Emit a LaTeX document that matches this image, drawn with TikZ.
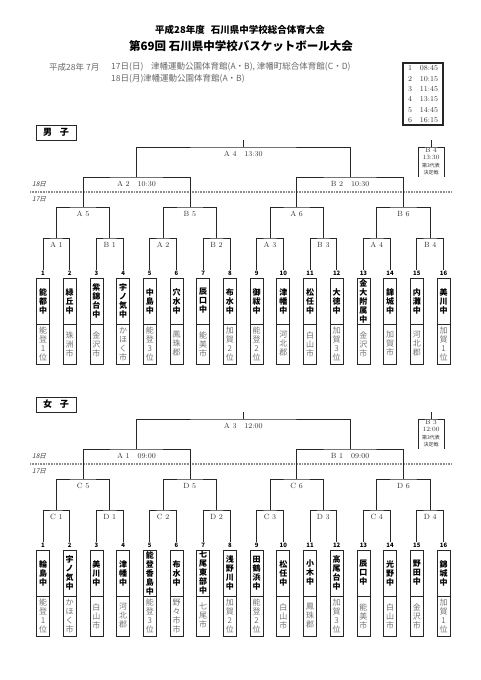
\documentclass[tikz,border=0pt]{standalone}
\usepackage{fontspec}
\newfontfamily\jp{Noto Sans CJK JP}
\newfontfamily\jpsl[FakeSlant=0.25]{Noto Sans CJK JP}

\begin{document}
\begin{tikzpicture}[
    x=1pt, y=-1pt,
    ln/.style={draw=black!85,line width=0.7pt},
    lbl/.style={font=\fontsize{7.5}{8}\selectfont,text=black!80,inner sep=0pt},
    info/.style={font=\jp\fontsize{8.5}{9}\selectfont,text=black!60,inner sep=0pt,anchor=west},
    numb/.style={font=\jp\bfseries\fontsize{6}{6}\selectfont,inner sep=1pt},
    team/.style={draw=black!85,line width=0.7pt,minimum width=13pt,minimum height=46pt,inner sep=0pt,align=center,font=\jp\bfseries\fontsize{8}{9}\selectfont},
    home/.style={draw=black!85,line width=0.7pt,minimum width=13pt,minimum height=40pt,inner sep=0pt,align=center,text=black!55,font=\jp\fontsize{8}{9}\selectfont},
    sexbox/.style={draw=black!85,line width=0.8pt,minimum width=40pt,minimum height=15pt,inner sep=0pt,font=\jp\bfseries\fontsize{9}{9}\selectfont},
    day/.style={font=\jpsl\fontsize{6.5}{7}\selectfont,text=black!75,inner sep=0pt},
    daysep/.style={draw=black!45,line width=1.6pt,dash pattern=on 1pt off 0.6pt},
    thirdbox/.style={align=center,inner sep=0pt,font=\fontsize{6.5}{7.5}\selectfont,text=black!80}
]
\useasboundingbox (0,0) rectangle (481,680);

% heading
\node[font=\jp\bfseries\fontsize{9.5}{10}\selectfont,inner sep=0pt] (title1) at (240,30) {平成28年度\hspace{6pt}石川県中学校総合体育大会};
\node[font=\jp\bfseries\fontsize{11.5}{12}\selectfont,inner sep=0pt] (title2) at (241,46) {第69回 石川県中学校バスケットボール大会};
\node[info] (ya) at (49,67) {平成28年};
\node[info] (mo) at (86,67) {7月};
\node[info] (d17) at (111,67) {17日(日)};
\node[info] (h17) at (151,67) {津幡運動公園体育館(A・B), 津幡町総合体育館(C・D)};
\node[info] (d18) at (111,79) {18日(月)};
\node[info] (h18) at (143,79) {津幡運動公園体育館(A・B)};

% time table
\node[draw=black!85,line width=1.6pt,minimum width=40pt,minimum height=62pt,inner sep=0pt] (tbl) at (423,94) {};
\foreach \r/\t in {1/08:45,2/10:15,3/11:45,4/13:15,5/14:45,6/16:15}{
  \node[lbl] (tn\r) at (410,{58.2+10.3*\r}) {\r};
  \node[lbl] (tt\r) at (429,{58.2+10.3*\r}) {\t};
}

% boys
\node[sexbox] (bsex) at (56,132.5) {男\hspace{8pt}子};
\node[day] (b18) at (39,184) {18日};
\node[day] (b17) at (39,199) {17日};
\draw[daysep] (30,192) -- (452,192);
\foreach \i/\nm/\ct in {1/能\\都\\中/能\\登\\1\\位, 2/緑\\丘\\中/珠\\洲\\市,
    3/紫\\錦\\台\\中/金\\沢\\市, 4/宇\\ノ\\気\\中/か\\ほ\\く\\市,
    5/中\\島\\中/能\\登\\3\\位, 6/穴\\水\\中/鳳\\珠\\郡,
    7/辰\\口\\中/能\\美\\市, 8/布\\水\\中/加\\賀\\2\\位,
    9/御\\祓\\中/能\\登\\2\\位, 10/津\\幡\\中/河\\北\\郡,
    11/松\\任\\中/白\\山\\市, 12/大\\徳\\中/加\\賀\\3\\位,
    13/金\\大\\附\\属\\中/金\\沢\\市, 14/錦\\城\\中/加\\賀\\市,
    15/内\\灘\\中/河\\北\\郡, 16/美\\川\\中/加\\賀\\1\\位}{
  \node[numb] (bn\i) at ({43+26.7*(\i-1)},273) {\i};
  \node[team] (bt\i) at ({43+26.7*(\i-1)},301) {\nm};
  \node[home] (bh\i) at ({43+26.7*(\i-1)},344) {\ct};
}
\foreach \k/\lb in {1/A 1,2/B 1,3/A 2,4/B 2,5/A 3,6/B 3,7/A 4,8/B 4}{
  \pgfmathtruncatemacro\ka{2*\k-1}
  \pgfmathtruncatemacro\kb{2*\k}
  \coordinate (br\k) at ({56.35+53.4*(\k-1)},238);
  \draw[ln] (bn\ka.north) |- (br\k) -| (bn\kb.north);
  \node[lbl] (brl\k) at ([yshift=-7pt]br\k) {\lb};
}
\foreach \m/\lb in {1/A 5,2/B 5,3/A 6,4/B 6}{
  \pgfmathtruncatemacro\ka{2*\m-1}
  \pgfmathtruncatemacro\kb{2*\m}
  \coordinate (bs\m) at ({83.05+106.8*(\m-1)},207);
  \draw[ln] (br\ka) |- (bs\m) -| (br\kb);
  \node[lbl] (bsl\m) at ([yshift=-7pt]bs\m) {\lb};
}
\coordinate (bq1) at (136.45,177);
\coordinate (bq2) at (350.05,177);
\draw[ln] (bs1) |- (bq1) -| (bs2);
\draw[ln] (bs3) |- (bq2) -| (bs4);
\node[lbl] (bql1) at ([yshift=-7pt]bq1) {A 2\hspace{8pt}10:30};
\node[lbl] (bql2) at ([yshift=-7pt]bq2) {B 2\hspace{8pt}10:30};
\coordinate (bf) at (243.25,147);
\coordinate (bftop) at (243.25,140);
\draw[ln] (bq1) |- (bf) -| (bq2);
\draw[ln] (bf) -- (bftop);
\node[lbl] (bfl) at ([yshift=-7pt]bf) {A 4\hspace{8pt}13:30};
% third place
\coordinate (b3l) at (418,177);
\coordinate (b3r) at (444,177);
\coordinate (b3t) at (431,147);
\coordinate (b3top) at (431,140);
\draw[ln] (b3l) |- (b3t) -| (b3r);
\draw[ln] (b3t) -- (b3top);
\node[thirdbox] (b3x) at (431,161.5) {B 4\\13:30\\{\jp\fontsize{5}{6}\selectfont 第3代表}\\{\jp\fontsize{5}{6}\selectfont 決定戦}};

% girls
\begin{scope}[yshift=-272pt]
\node[sexbox] (gsex) at (56,132.5) {女\hspace{8pt}子};
\node[day] (g18) at (39,184) {18日};
\node[day] (g17) at (39,199) {17日};
\draw[daysep] (30,192) -- (452,192);
\foreach \i/\nm/\ct in {1/輪\\島\\中/能\\登\\1\\位, 2/宇\\ノ\\気\\中/か\\ほ\\く\\市,
    3/美\\川\\中/白\\山\\市, 4/津\\幡\\中/河\\北\\郡,
    5/能\\登\\香\\島\\中/能\\登\\3\\位, 6/布\\水\\中/野\\々\\市\\市,
    7/七\\尾\\東\\部\\中/七\\尾\\市, 8/浅\\野\\川\\中/加\\賀\\2\\位,
    9/田\\鶴\\浜\\中/能\\登\\2\\位, 10/松\\任\\中/白\\山\\市,
    11/小\\木\\中/鳳\\珠\\郡, 12/高\\尾\\台\\中/加\\賀\\3\\位,
    13/辰\\口\\中/能\\美\\市, 14/光\\野\\中/白\\山\\市,
    15/野\\田\\中/金\\沢\\市, 16/錦\\城\\中/加\\賀\\1\\位}{
  \node[numb] (gn\i) at ({43+26.7*(\i-1)},273) {\i};
  \node[team] (gt\i) at ({43+26.7*(\i-1)},301) {\nm};
  \node[home] (gh\i) at ({43+26.7*(\i-1)},344) {\ct};
}
\foreach \k/\lb in {1/C 1,2/D 1,3/C 2,4/D 2,5/C 3,6/D 3,7/C 4,8/D 4}{
  \pgfmathtruncatemacro\ka{2*\k-1}
  \pgfmathtruncatemacro\kb{2*\k}
  \coordinate (gr\k) at ({56.35+53.4*(\k-1)},238);
  \draw[ln] (gn\ka.north) |- (gr\k) -| (gn\kb.north);
  \node[lbl] (grl\k) at ([yshift=-7pt]gr\k) {\lb};
}
\foreach \m/\lb in {1/C 5,2/D 5,3/C 6,4/D 6}{
  \pgfmathtruncatemacro\ka{2*\m-1}
  \pgfmathtruncatemacro\kb{2*\m}
  \coordinate (gs\m) at ({83.05+106.8*(\m-1)},207);
  \draw[ln] (gr\ka) |- (gs\m) -| (gr\kb);
  \node[lbl] (gsl\m) at ([yshift=-7pt]gs\m) {\lb};
}
\coordinate (gq1) at (136.45,177);
\coordinate (gq2) at (350.05,177);
\draw[ln] (gs1) |- (gq1) -| (gs2);
\draw[ln] (gs3) |- (gq2) -| (gs4);
\node[lbl] (gql1) at ([yshift=-7pt]gq1) {A 1\hspace{8pt}09:00};
\node[lbl] (gql2) at ([yshift=-7pt]gq2) {B 1\hspace{8pt}09:00};
\coordinate (gf) at (243.25,147);
\coordinate (gftop) at (243.25,140);
\draw[ln] (gq1) |- (gf) -| (gq2);
\draw[ln] (gf) -- (gftop);
\node[lbl] (gfl) at ([yshift=-7pt]gf) {A 3\hspace{8pt}12:00};
% third place
\coordinate (g3l) at (418,177);
\coordinate (g3r) at (444,177);
\coordinate (g3t) at (431,147);
\coordinate (g3top) at (431,140);
\draw[ln] (g3l) |- (g3t) -| (g3r);
\draw[ln] (g3t) -- (g3top);
\node[thirdbox] (g3x) at (431,161.5) {B 3\\12:00\\{\jp\fontsize{5}{6}\selectfont 第3代表}\\{\jp\fontsize{5}{6}\selectfont 決定戦}};
\end{scope}
\end{tikzpicture}
\end{document}
